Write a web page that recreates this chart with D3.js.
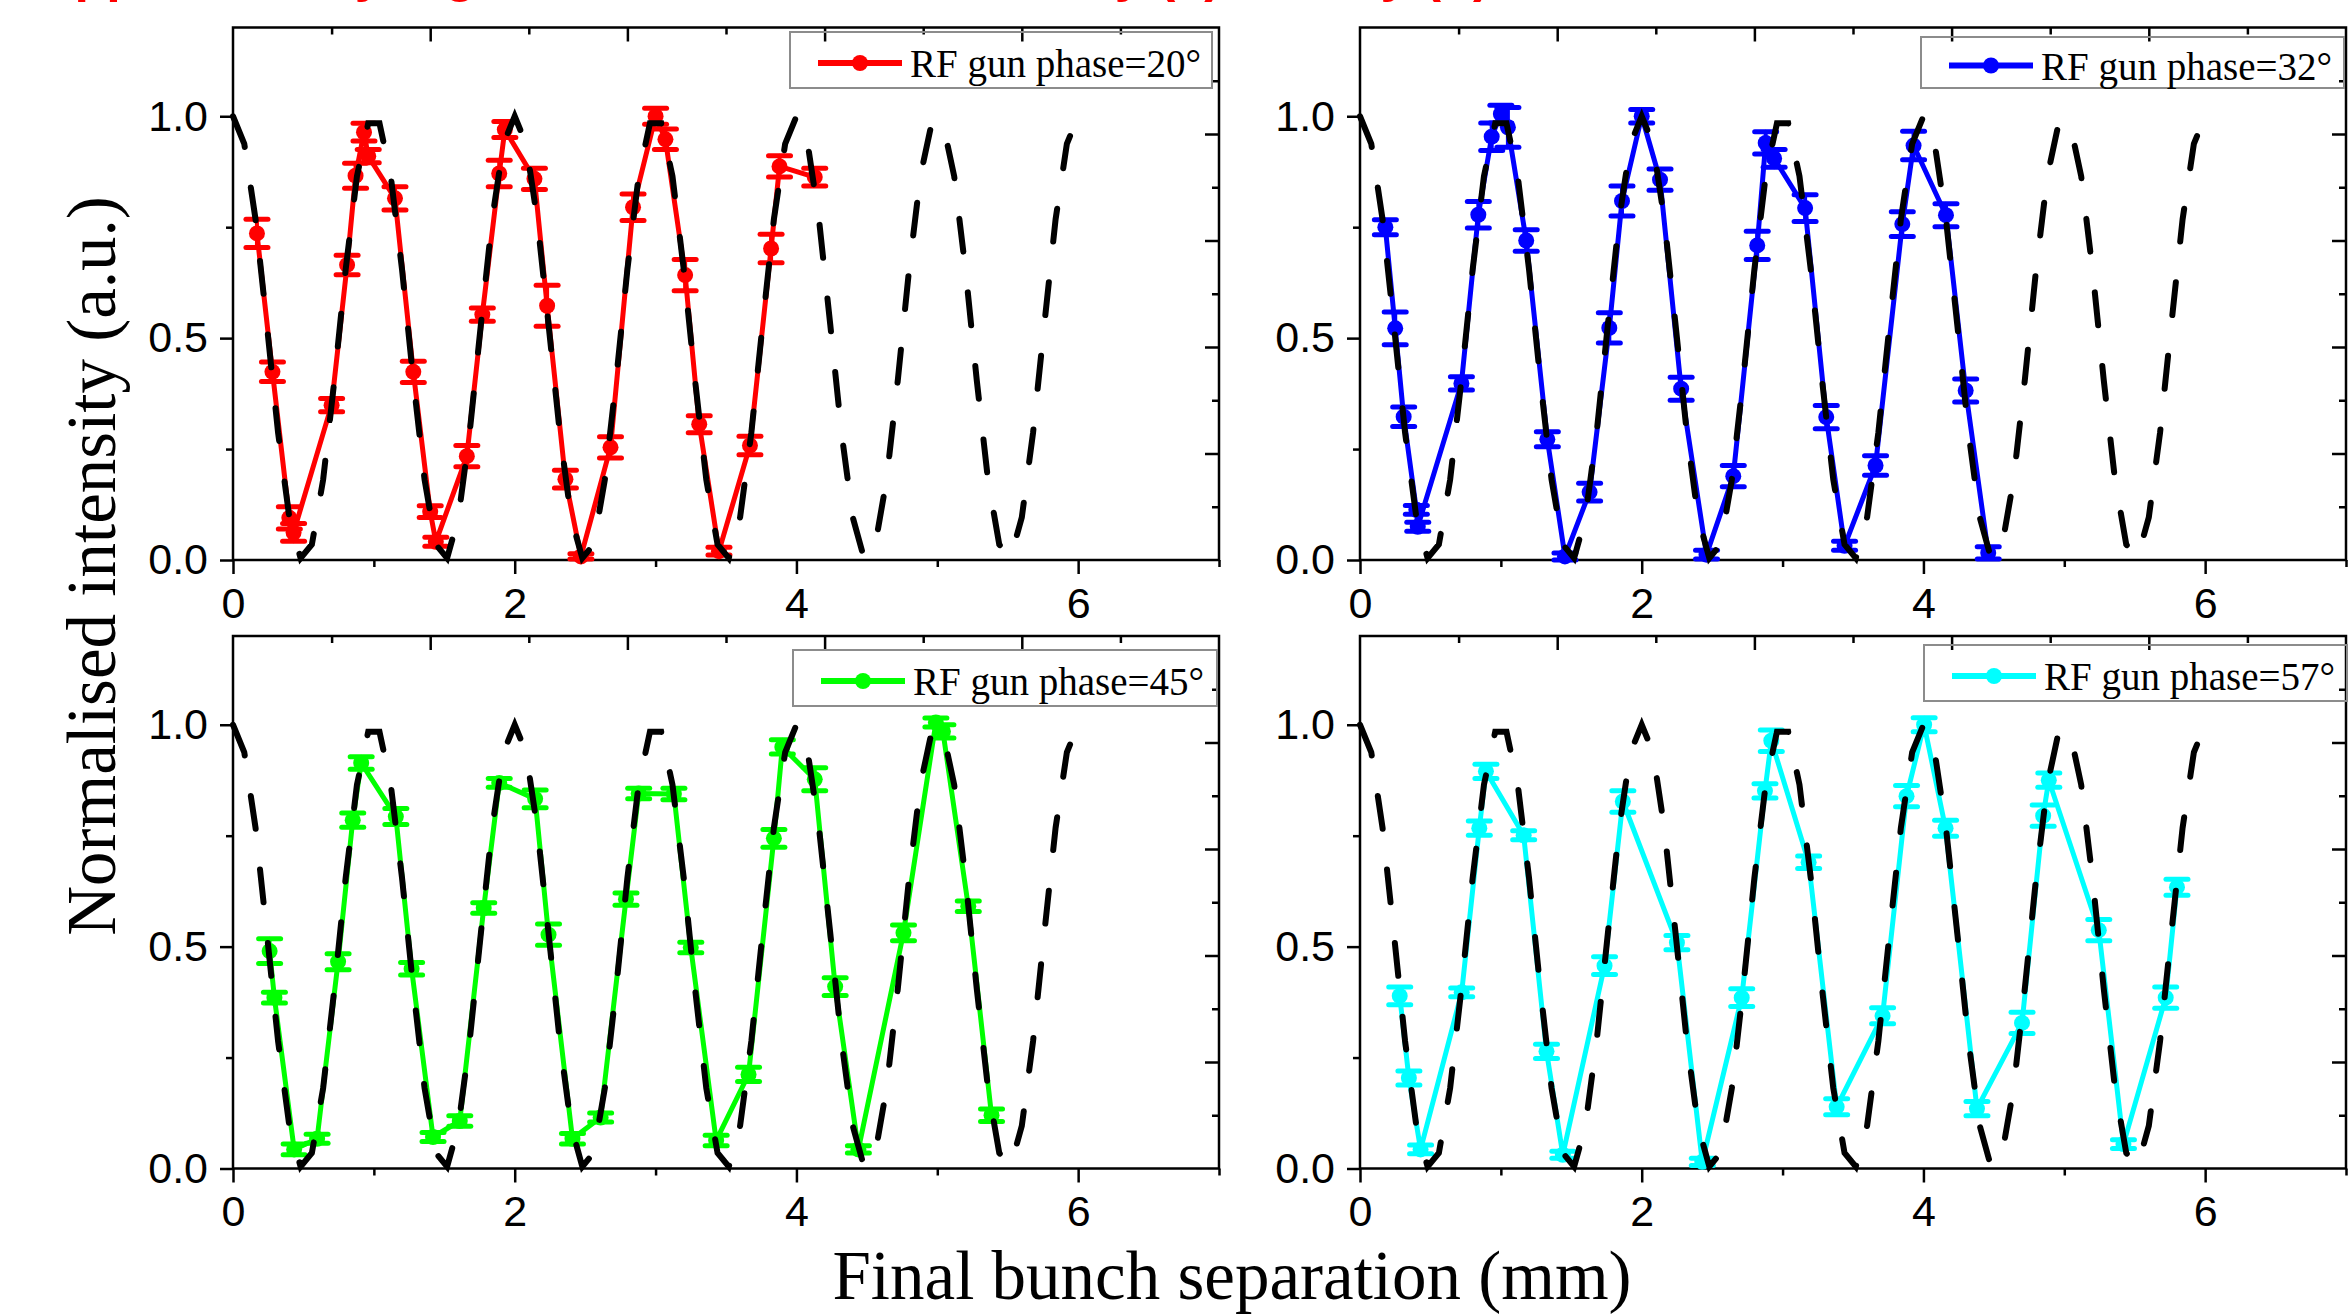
<!DOCTYPE html>
<html>
<head>
<meta charset="utf-8">
<script src="https://cdn.jsdelivr.net/npm/d3@7"></script>
<style>
  body { margin: 0; background: #fff; }
</style>
</head>
<body>
<div id="chart"></div>
<script>

// Measured data, RF gun phase = 20 deg
var redX = [0.17, 0.28, 0.40, 0.43, 0.70, 0.81, 0.87, 0.93, 0.96, 1.15, 1.28, 1.40, 1.44, 1.66, 1.77, 1.89, 1.93, 2.14, 2.23, 2.36, 2.47, 2.68, 2.84, 3.00, 3.07, 3.21, 3.31, 3.45, 3.67, 3.82, 3.88, 4.13];
var redY = [0.736, 0.424, 0.095, 0.062, 0.349, 0.665, 0.866, 0.964, 0.91, 0.815, 0.424, 0.109, 0.041, 0.234, 0.553, 0.871, 0.970, 0.859, 0.573, 0.182, 0.008, 0.254, 0.795, 1.0, 0.948, 0.642, 0.306, 0.02, 0.258, 0.702, 0.887, 0.863];
var redErr = [0.032, 0.022, 0.025, 0.02, 0.015, 0.022, 0.028, 0.02, 0.015, 0.026, 0.024, 0.013, 0.01, 0.024, 0.015, 0.03, 0.018, 0.024, 0.046, 0.02, 0.006, 0.024, 0.03, 0.018, 0.023, 0.035, 0.019, 0.009, 0.021, 0.032, 0.024, 0.02];

// RF gun phase = 32 deg
var blueX = [0.18, 0.25, 0.31, 0.40, 0.41, 0.72, 0.84, 0.935, 1.0, 1.05, 1.18, 1.33, 1.455, 1.63, 1.77, 1.86, 2.0, 2.13, 2.28, 2.46, 2.65, 2.82, 2.88, 2.94, 3.16, 3.31, 3.44, 3.66, 3.85, 3.93, 4.16, 4.30, 4.46];
var blueY = [0.75, 0.522, 0.323, 0.113, 0.075, 0.398, 0.778, 0.954, 1.005, 0.975, 0.72, 0.272, 0.008, 0.153, 0.523, 0.809, 1.0, 0.857, 0.386, 0.012, 0.189, 0.709, 0.94, 0.905, 0.793, 0.322, 0.032, 0.213, 0.757, 0.934, 0.777, 0.382, 0.016];
var blueErr = [0.017, 0.037, 0.022, 0.01, 0.01, 0.015, 0.03, 0.031, 0.02, 0.045, 0.024, 0.017, 0.008, 0.02, 0.034, 0.034, 0.015, 0.024, 0.026, 0.01, 0.024, 0.032, 0.025, 0.02, 0.03, 0.026, 0.01, 0.022, 0.028, 0.032, 0.026, 0.026, 0.014];

// RF gun phase = 45 deg
var greenX = [0.26, 0.294, 0.434, 0.597, 0.746, 0.85, 0.91, 1.156, 1.268, 1.42, 1.61, 1.78, 1.89, 2.145, 2.24, 2.41, 2.61, 2.79, 2.88, 3.13, 3.25, 3.43, 3.66, 3.84, 3.9, 4.13, 4.275, 4.44, 4.76, 4.99, 5.04, 5.22, 5.385];
var greenY = [0.49, 0.385, 0.043, 0.067, 0.466, 0.785, 0.914, 0.793, 0.45, 0.071, 0.107, 0.587, 0.869, 0.833, 0.527, 0.067, 0.115, 0.607, 0.845, 0.844, 0.498, 0.063, 0.212, 0.744, 0.95, 0.877, 0.41, 0.043, 0.531, 1.005, 0.985, 0.591, 0.12];
var greenErr = [0.028, 0.012, 0.012, 0.01, 0.018, 0.016, 0.014, 0.018, 0.014, 0.01, 0.012, 0.012, 0.01, 0.02, 0.024, 0.012, 0.01, 0.014, 0.012, 0.013, 0.012, 0.012, 0.016, 0.02, 0.016, 0.026, 0.02, 0.008, 0.018, 0.01, 0.015, 0.012, 0.014];

// RF gun phase = 57 deg
var cyanX = [0.282, 0.347, 0.43, 0.722, 0.847, 0.894, 1.162, 1.324, 1.44, 1.736, 1.866, 2.25, 2.43, 2.71, 2.875, 2.92, 3.185, 3.384, 3.71, 3.88, 4.005, 4.157, 4.38, 4.70, 4.85, 4.89, 5.245, 5.42, 5.72, 5.80];
var cyanY = [0.389, 0.204, 0.043, 0.397, 0.767, 0.895, 0.751, 0.264, 0.031, 0.457, 0.827, 0.509, 0.015, 0.385, 0.851, 0.964, 0.69, 0.139, 0.344, 0.839, 1.0, 0.767, 0.135, 0.328, 0.795, 0.875, 0.537, 0.055, 0.385, 0.634];
var cyanErr = [0.02, 0.016, 0.01, 0.01, 0.016, 0.016, 0.01, 0.016, 0.008, 0.02, 0.024, 0.016, 0.008, 0.02, 0.016, 0.024, 0.014, 0.018, 0.018, 0.024, 0.016, 0.018, 0.016, 0.024, 0.024, 0.016, 0.024, 0.01, 0.024, 0.018];

// Theory curve (black dashed), same in every panel
var theoryX = [0, 0.08, 0.16, 0.24, 0.32, 0.4, 0.48, 0.56, 0.64, 0.72, 0.8, 0.88, 0.96, 1.04, 1.12, 1.2, 1.28, 1.36, 1.44, 1.52, 1.6, 1.68, 1.76, 1.84, 1.92,
  2, 2.08, 2.16, 2.24, 2.32, 2.4, 2.48, 2.56, 2.64, 2.72, 2.8, 2.88, 2.96, 3.04, 3.12, 3.2, 3.28, 3.36, 3.44, 3.52, 3.6, 3.68, 3.76, 3.84, 3.92,
  4, 4.08, 4.16, 4.24, 4.32, 4.4, 4.48, 4.56, 4.64, 4.72, 4.8, 4.88, 4.96, 5.04, 5.12, 5.2, 5.28, 5.36, 5.44, 5.52, 5.6, 5.68, 5.76, 5.84, 5.92, 6];
var theoryY = [1, 0.938, 0.768, 0.531, 0.287, 0.096, 0.004, 0.035, 0.181, 0.406, 0.655, 0.865, 0.984, 0.984, 0.865, 0.655, 0.406, 0.181, 0.035, 0.004, 0.096, 0.287, 0.531, 0.768, 0.938,
  1, 0.938, 0.768, 0.531, 0.287, 0.096, 0.004, 0.035, 0.181, 0.406, 0.655, 0.865, 0.984, 0.984, 0.865, 0.655, 0.406, 0.181, 0.035, 0.004, 0.096, 0.287, 0.531, 0.768, 0.938,
  1, 0.938, 0.768, 0.531, 0.287, 0.096, 0.004, 0.035, 0.181, 0.406, 0.655, 0.865, 0.984, 0.984, 0.865, 0.655, 0.406, 0.181, 0.035, 0.004, 0.096, 0.287, 0.531, 0.768, 0.938, 1];

// Ticks and labels
var xMajor = [0, 2, 4, 6];
var xMinor = [1, 3, 5, 7];
var yMajor = [0, 0.5, 1.0];
var yMinor = [0.25, 0.75];
var phases = ["20", "32", "45", "57"];

//Dimensions
var W = 2351, H = 1315;
var pw = 986, ph = 532.5;

var svg = d3.select("#chart")
    .append("svg")
    .attr("width", W)
    .attr("height", H);

var panels = [
    { x: redX, y: redY, err: redErr, color: "#ff0000", left: 233, top: 27.5, leg: [790, 32, 422, 56], phase: phases[0] },
    { x: blueX, y: blueY, err: blueErr, color: "#0000ff", left: 1360, top: 27.5, leg: [1921, 37, 423, 51], phase: phases[1] },
    { x: greenX, y: greenY, err: greenErr, color: "#00ff00", left: 233, top: 636, leg: [793, 650, 424, 56], phase: phases[2] },
    { x: cyanX, y: cyanY, err: cyanErr, color: "#00ffff", left: 1360, top: 636, leg: [1924, 645, 423, 56], phase: phases[3] }
];

function styleAxis(g) {
    g.select(".domain").remove();
    g.selectAll(".tick line").attr("stroke", "#000").attr("stroke-width", 2.5);
    g.attr("font-family", "'Liberation Sans', Arial, sans-serif").attr("font-size", 43);
    g.selectAll(".tick text").attr("fill", "#000");
}

panels.forEach(function (p) {
    var g = svg.append("g")
        .attr("transform", "translate(" + p.left + "," + p.top + ")");

    var x = d3.scaleLinear().domain([0, 7]).range([0, pw]);
    var y = d3.scaleLinear().domain([0, 1.2]).range([ph, 0]);
    var xTop = d3.scaleLinear().domain([0, 10]).range([0, pw]);
    var yRight = d3.scaleLinear().domain([0, 10]).range([ph, 0]);

    //Bottom axis
    g.append("g").attr("transform", "translate(0," + ph + ")")
        .call(d3.axisBottom(x).tickValues(xMajor).tickSize(14).tickPadding(13).tickFormat(d3.format("d")))
        .call(styleAxis);
    g.append("g").attr("transform", "translate(0," + ph + ")")
        .call(d3.axisBottom(x).tickValues(xMinor).tickSize(7).tickFormat(""))
        .call(styleAxis);

    //Left axis
    g.append("g")
        .call(d3.axisLeft(y).tickValues(yMajor).tickSize(13).tickPadding(12).tickFormat(d3.format(".1f")))
        .call(styleAxis);
    g.append("g")
        .call(d3.axisLeft(y).tickValues(yMinor).tickSize(7).tickFormat(""))
        .call(styleAxis);

    //Top and right axes, ticks inside, odd ones shorter
    var topAx = g.append("g")
        .call(d3.axisTop(xTop).tickValues(d3.range(1, 10)).tickSize(-14).tickFormat(""))
        .call(styleAxis);
    topAx.selectAll(".tick line").filter(function (d) { return d % 2 === 1; }).attr("y2", 7);
    var rightAx = g.append("g").attr("transform", "translate(" + pw + ",0)")
        .call(d3.axisRight(yRight).tickValues(d3.range(1, 10)).tickSize(-14).tickFormat(""))
        .call(styleAxis);
    rightAx.selectAll(".tick line").filter(function (d) { return d % 2 === 1; }).attr("x2", -7);

    //Frame
    g.append("rect")
        .attr("width", pw)
        .attr("height", ph)
        .attr("fill", "none")
        .attr("stroke", "#000")
        .attr("stroke-width", 2.5);

    var pts = p.x.map(function (d, i) { return { x: d, y: p.y[i], e: p.err[i] }; });

    //Data line
    g.append("path")
        .datum(pts)
        .attr("fill", "none")
        .attr("stroke", p.color)
        .attr("stroke-width", 5)
        .attr("stroke-linejoin", "round")
        .attr("d", d3.line().x(function (d) { return x(d.x); }).y(function (d) { return y(d.y); }));

    //Error bars
    var eb = g.selectAll(".eb").data(pts).enter().append("g")
        .attr("stroke", p.color)
        .attr("stroke-linecap", "round");
    eb.append("line")
        .attr("x1", function (d) { return x(d.x); })
        .attr("x2", function (d) { return x(d.x); })
        .attr("y1", function (d) { return y(d.y - d.e); })
        .attr("y2", function (d) { return y(d.y + d.e); })
        .attr("stroke-width", 4);
    eb.append("line")
        .attr("x1", function (d) { return x(d.x) - 11; })
        .attr("x2", function (d) { return x(d.x) + 11; })
        .attr("y1", function (d) { return y(d.y - d.e); })
        .attr("y2", function (d) { return y(d.y - d.e); })
        .attr("stroke-width", 5);
    eb.append("line")
        .attr("x1", function (d) { return x(d.x) - 11; })
        .attr("x2", function (d) { return x(d.x) + 11; })
        .attr("y1", function (d) { return y(d.y + d.e); })
        .attr("y2", function (d) { return y(d.y + d.e); })
        .attr("stroke-width", 5);

    //Markers
    g.selectAll(".dot").data(pts).enter().append("circle")
        .attr("cx", function (d) { return x(d.x); })
        .attr("cy", function (d) { return y(d.y); })
        .attr("r", 8)
        .attr("fill", p.color);

    //Theory
    g.append("path")
        .datum(theoryX.map(function (d, i) { return [d, theoryY[i]]; }))
        .attr("fill", "none")
        .attr("stroke", "#000")
        .attr("stroke-width", 6)
        .attr("stroke-linecap", "round")
        .attr("stroke-dasharray", "33,41")
        .attr("d", d3.line().x(function (d) { return x(d[0]); }).y(function (d) { return y(d[1]); }));

    //Legend
    var L = p.leg;
    var lg = svg.append("g").attr("transform", "translate(" + L[0] + "," + L[1] + ")");
    lg.append("rect")
        .attr("width", L[2]).attr("height", L[3])
        .attr("fill", "none")
        .attr("stroke", "#8c8c8c")
        .attr("stroke-width", 2);
    lg.append("line")
        .attr("x1", 28).attr("x2", 112)
        .attr("y1", L[3] / 2 + 3).attr("y2", L[3] / 2 + 3)
        .attr("stroke", p.color)
        .attr("stroke-width", 6);
    lg.append("circle")
        .attr("cx", 70).attr("cy", L[3] / 2 + 3)
        .attr("r", 8)
        .attr("fill", p.color);
    lg.append("text")
        .attr("x", 120)
        .attr("y", L[3] / 2 + 17)
        .attr("font-family", "'Liberation Serif', 'Times New Roman', serif")
        .attr("font-size", 39)
        .text("RF gun phase=" + p.phase + "\u00b0");
});

//Axis titles
svg.append("text")
    .attr("transform", "translate(115,566) rotate(-90)")
    .attr("text-anchor", "middle")
    .attr("font-family", "'Liberation Serif', 'Times New Roman', serif")
    .attr("font-size", 69)
    .text("Normalised intensity (a.u.)");

svg.append("text")
    .attr("x", 1232)
    .attr("y", 1299)
    .attr("text-anchor", "middle")
    .attr("font-family", "'Liberation Serif', 'Times New Roman', serif")
    .attr("font-size", 69)
    .text("Final bunch separation (mm)");

//Caption, cut by the top edge as in the original
svg.append("text")
    .attr("x", 8)
    .attr("y", -9)
    .attr("fill", "#ff0000")
    .attr("font-family", "'Liberation Sans', Arial, sans-serif")
    .attr("font-weight", "bold")
    .attr("font-size", 52)
    .text("Supplementary Figure 4: Normalised intensity (a), theory (b)");

</script>
</body>
</html>
